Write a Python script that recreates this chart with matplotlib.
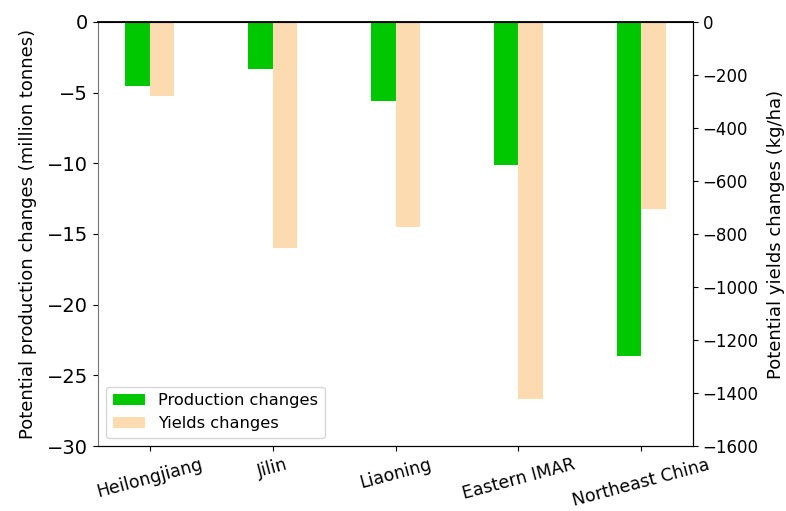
import numpy as np
import matplotlib
matplotlib.use("Agg")
import matplotlib.pyplot as plt

regions = ["Heilongjiang", "Jilin", "Liaoning", "Eastern IMAR", "Northeast China"]
production_changes = [-4.5, -3.3, -5.6, -10.15, -23.6]   # million tonnes
yields_changes = [-280, -853, -772, -1421, -706]          # kg/ha

green = "#00c800"
peach = "#fddbb0"

fig = plt.figure(figsize=(7.86, 5.11), dpi=100)
ax = fig.add_axes([0.1247, 0.1272, 0.7570, 0.8298])
ax2 = ax.twinx()

x = np.arange(len(regions))
w = 0.2
b1 = ax.bar(x - w / 2, production_changes, width=w, color=green, label="Production changes")
b2 = ax2.bar(x + w / 2, yields_changes, width=w, color=peach, label="Yields changes")

ax.set_ylim(-30, 0)
ax2.set_ylim(-1600, 0)
ax.set_yticks(np.arange(-30, 1, 5))
ax2.set_yticks(np.arange(-1600, 1, 200))

ax.set_xticks(x)
ax.set_xticklabels(regions, rotation=15, fontsize=12.5)
ax.tick_params(axis="y", labelsize=14)
ax2.tick_params(axis="y", labelsize=12)

ax.spines["left"].set_color("0.45")
ax2.spines["left"].set_visible(False)
ax.spines["top"].set_linewidth(1.3)

ax.set_ylabel("Potential production changes (million tonnes)", fontsize=13, labelpad=7)
ax2.set_ylabel("Potential yields changes (kg/ha)", fontsize=13, labelpad=6)

ax.legend([b1, b2], ["Production changes", "Yields changes"], loc="lower left", fontsize=11.7)

fig.savefig("out.png", dpi=100)
